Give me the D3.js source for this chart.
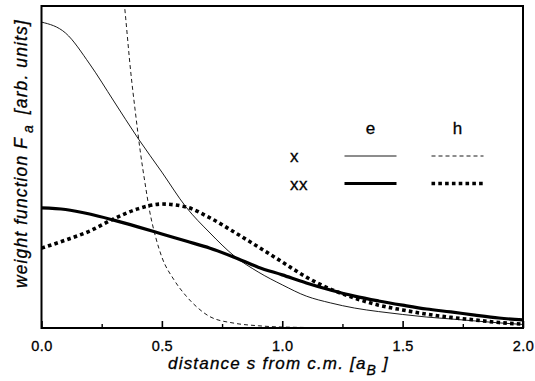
<html>
<script src='https://d3js.org/d3.v7.min.js'></script>
<style>
body {margin:0; background:#fff;}
text {font-family: 'Liberation Sans', Arial, sans-serif; fill:#000; stroke:#000; stroke-width:0.3;}
.domain {display:none;}
</style>
<body>
<svg width=535 height=381></svg>
<script>
// distance s from c.m. (in a_B)
var sGrid = [0,0.1,0.2,0.3,0.4,0.5,0.6,0.7,0.8,0.9,1.0,1.1,1.2,1.3,1.4,1.5,1.6,1.7,1.8,1.9,2.0];
// electron, exciton (thin solid)
var eX = [0.950,0.916,0.820,0.705,0.590,0.484,0.376,0.295,0.224,0.174,0.134,0.099,0.078,0.062,0.051,0.042,0.034,0.028,0.022,0.016,0.011];
// electron, biexciton (thick solid)
var eXX = [0.373,0.368,0.354,0.335,0.314,0.292,0.270,0.248,0.220,0.189,0.165,0.140,0.118,0.099,0.084,0.071,0.059,0.050,0.040,0.031,0.025];
// hole, biexciton (thick dotted)
var hXX = [0.248,0.273,0.301,0.339,0.370,0.385,0.376,0.342,0.298,0.252,0.205,0.158,0.121,0.093,0.071,0.056,0.043,0.033,0.025,0.017,0.012];
// hole, exciton (thin dashed) - own grid, it is very narrow
var sHX = [0.33,0.35,0.37,0.39,0.41,0.43,0.45,0.475,0.50,0.55,0.60,0.65,0.70,0.80,0.90,1.00,1.20,2.00];
var hX = [1.12,0.96,0.80,0.67,0.55,0.45,0.36,0.28,0.22,0.15,0.10,0.062,0.035,0.015,0.007,0.003,0.001,0.0];

var xTicks = [0,0.5,1.0,1.5,2.0];
var xMinor = [0.25,0.75,1.25,1.75];
var colLabels = ['e','h'];
var rowLabels = ['x','xx'];

var svg = d3.select('svg');
var L = 41.5, R = 523, T = 6, B = 328;

var xs = d3.scaleLinear().domain([0,2]).range([L,R]);
var ys = d3.scaleLinear().domain([0,1]).range([B,T]);

svg.append('clipPath').attr('id','clip').append('rect')
  .attr('x',L).attr('y',T).attr('width',R-L).attr('height',B-T);

var series = [
  {s:sGrid, v:eX,  w:0.9, dash:null},
  {s:sHX,   v:hX,  w:0.9, dash:'4,3'},
  {s:sGrid, v:eXX, w:3.2, dash:null},
  {s:sGrid, v:hXX, w:3.6, dash:'3.6,3.2'}
];

var line = d3.line().curve(d3.curveMonotoneX)
  .x(function(d){return xs(d[0]);})
  .y(function(d){return ys(d[1]);});

var g = svg.append('g').attr('clip-path','url(#clip)');
series.forEach(function(sr){
  g.append('path')
    .datum(sr.s.map(function(s,i){return [s, sr.v[i]];}))
    .attr('d', line)
    .attr('fill','none')
    .attr('stroke','#000')
    .attr('stroke-width', sr.w)
    .attr('stroke-dasharray', sr.dash);
});

// axes, ticks inward
var ax = d3.axisBottom(xs).tickValues(xTicks).tickSize(-7).tickPadding(13)
  .tickFormat(d3.format('.1f'));
svg.append('g').attr('transform','translate(0,'+B+')').call(ax)
  .call(function(a){a.selectAll('line').attr('stroke','#000').attr('stroke-width',1.6);
    a.selectAll('text').attr('font-size',14.5).attr('font-family',null).attr('letter-spacing',0.4);});
svg.append('g').attr('transform','translate(0,'+B+')')
  .call(d3.axisBottom(xs).tickValues(xMinor).tickSize(-4).tickFormat(''))
  .selectAll('line').attr('stroke','#000').attr('stroke-width',1.4);

svg.append('rect').attr('x',L).attr('y',T).attr('width',R-L).attr('height',B-T)
  .attr('fill','none').attr('stroke','#000').attr('stroke-width',2);

// axis titles
var xt = svg.append('text').attr('x',168).attr('y',369)
  .attr('font-size',17).attr('font-style','italic').attr('letter-spacing',1.2);
xt.append('tspan').text('distance s from c.m. [a');
xt.append('tspan').attr('dy',6).attr('font-size',14).text('B');
xt.append('tspan').attr('dy',-6).text(' ]');

var yt = svg.append('text').attr('transform','translate(27,288) rotate(-90)')
  .attr('font-size',17.5).attr('font-style','italic').attr('letter-spacing',1.1);
yt.append('tspan').text('weight function F');
yt.append('tspan').attr('dy',6).attr('font-size',14).attr('dx',4).text('a');
yt.append('tspan').attr('dy',-6).attr('dx',4).text(' [arb. units]');

// legend
var colX = [370.5, 457.5], rowY = [156, 183.5];
colLabels.forEach(function(c,i){
  svg.append('text').attr('x',colX[i]).attr('y',134).attr('text-anchor','middle')
    .attr('font-size',17).text(c);
});
rowLabels.forEach(function(r,j){
  svg.append('text').attr('x',290).attr('y',rowY[j]+6).attr('font-size',17)
    .attr('letter-spacing',0.5).text(r);
});
var legendStyle = [[series[0],series[1]],[series[2],series[3]]];
legendStyle.forEach(function(row,j){
  row.forEach(function(sr,i){
    svg.append('line').attr('x1',colX[i]-26).attr('x2',colX[i]+26)
      .attr('y1',rowY[j]).attr('y2',rowY[j])
      .attr('stroke','#000').attr('stroke-width',sr.w).attr('stroke-dasharray',sr.dash);
  });
});
</script>
</body>
</html>
